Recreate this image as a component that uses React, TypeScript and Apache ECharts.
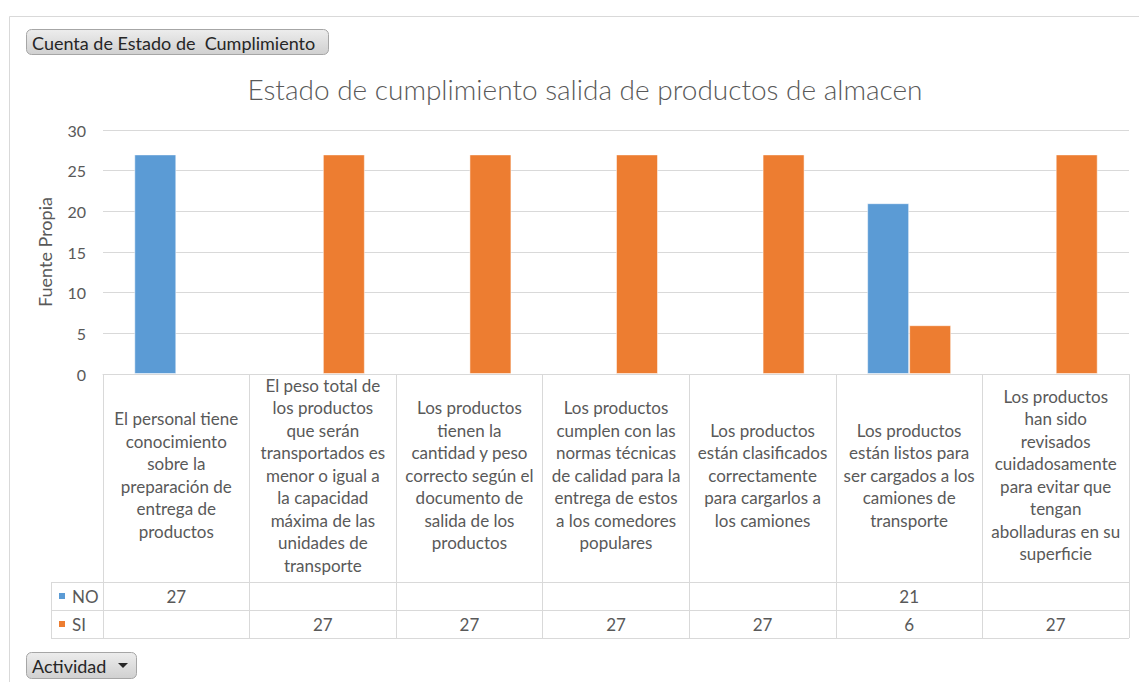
import React, { useEffect, useRef } from "react";
import * as echarts from "echarts";

const title = "Estado de cumplimiento salida de productos de almacen";
const yAxisName = "Fuente Propia";
const fieldButton = "Cuenta de Estado de  Cumplimiento";
const axisButton = "Actividad";

const categories = [
  "El personal tiene\nconocimiento\nsobre la\npreparación de\nentrega de\nproductos",
  "El peso total de\nlos productos\nque serán\ntransportados es\nmenor o igual a\nla capacidad\nmáxima de las\nunidades de\ntransporte",
  "Los productos\ntienen la\ncantidad y peso\ncorrecto según el\ndocumento de\nsalida de los\nproductos",
  "Los productos\ncumplen con las\nnormas técnicas\nde calidad para la\nentrega de estos\na los comedores\npopulares",
  "Los productos\nestán clasificados\ncorrectamente\npara cargarlos a\nlos camiones",
  "Los productos\nestán listos para\nser cargados a los\ncamiones de\ntransporte",
  "Los productos\nhan sido\nrevisados\ncuidadosamente\npara evitar que\ntengan\nabolladuras en su\nsuperficie",
];

const seriesNames = ["NO", "SI"];
const noValues: (number | null)[] = [27, null, null, null, null, 21, null];
const siValues: (number | null)[] = [null, 27, 27, 27, 27, 6, 27];
const seriesColors = ["#5B9BD5", "#ED7D31"];

const yTicks = { min: 0, max: 30, interval: 5 };

const FONT = "Lato, 'Open Sans', sans-serif";
const TEXT = "#595959";
const LINE = "#D9D9D9";

export default function App() {
  const ref = useRef<HTMLDivElement>(null);

  useEffect(() => {
    if (!ref.current) return;
    const chart = echarts.init(ref.current, undefined, { renderer: "svg" });
    const labelRowH = 208;
    const rowH = 28;

    chart.setOption({
      animation: false,
      backgroundColor: "#ffffff",
      textStyle: { fontFamily: FONT },
      title: {
        text: title,
        left: 580,
        top: 70,
        textAlign: "center",
        textStyle: { fontFamily: FONT, fontSize: 28, fontWeight: 300, color: TEXT },
      },
      grid: { left: 103, right: 10, top: 130, height: 244, containLabel: false },
      xAxis: {
        type: "category",
        data: categories,
        axisLine: { show: true, lineStyle: { color: LINE, width: 1 } },
        axisTick: { show: true, interval: 0, length: labelRowH + 2 * rowH, lineStyle: { color: LINE, width: 1 } },
        axisLabel: {
          interval: 0,
          margin: labelRowH / 2 - 3,
          verticalAlign: "middle",
          align: "center",
          lineHeight: 22.5,
          fontSize: 17,
          color: TEXT,
          fontFamily: FONT,
        },
        splitLine: { show: false },
      },
      yAxis: {
        type: "value",
        min: yTicks.min,
        max: yTicks.max,
        interval: yTicks.interval,
        name: yAxisName,
        nameLocation: "middle",
        nameGap: 49,
        nameRotate: 90,
        nameTextStyle: { fontFamily: FONT, fontSize: 18, color: TEXT },
        axisLine: { show: false },
        axisTick: { show: false },
        axisLabel: { fontSize: 16, color: TEXT, margin: 17, fontFamily: FONT },
        splitLine: { lineStyle: { color: LINE, width: 1 } },
      },
      series: [
        {
          name: seriesNames[0],
          type: "bar",
          data: noValues,
          barWidth: 42,
          barGap: "0%",
          itemStyle: { color: seriesColors[0], borderColor: "rgba(255,255,255,0.5)", borderWidth: 1 },
        },
        {
          name: seriesNames[1],
          type: "bar",
          data: siValues,
          barWidth: 42,
          barGap: "0%",
          itemStyle: { color: seriesColors[1], borderColor: "rgba(255,255,255,0.5)", borderWidth: 1 },
        },
      ],
    });

    const xs = categories.map((_, i) => chart.convertToPixel({ xAxisIndex: 0 }, i) as number);
    const band = xs.length > 1 ? xs[1] - xs[0] : 146;
    const right = xs[xs.length - 1] + band / 2;
    const y0 = chart.convertToPixel({ yAxisIndex: 0 }, 0) as number;
    const legendLeft = 51;
    const rowTops = [y0 + labelRowH, y0 + labelRowH + rowH, y0 + labelRowH + 2 * rowH];

    const graphics: any[] = [];
    // frame
    graphics.push({ type: "line", shape: { x1: 9.5, y1: 16.5, x2: 1139, y2: 16.5 }, style: { stroke: LINE, lineWidth: 1 } });
    graphics.push({ type: "line", shape: { x1: 9.5, y1: 16.5, x2: 9.5, y2: 682 }, style: { stroke: LINE, lineWidth: 1 } });

    const btn = (x: number, y: number, w: number, h: number, text: string, arrow: boolean) => {
      const children: any[] = [
        {
          type: "rect",
          shape: { x: x + 0.5, y: y + 0.5, width: w, height: h, r: 5 },
          style: {
            fill: new echarts.graphic.LinearGradient(0, 0, 0, 1, [
              { offset: 0, color: "#EDEDED" },
              { offset: 1, color: "#D0D0D0" },
            ]),
            stroke: "#A6A6A6",
            lineWidth: 1,
          },
        },
        {
          type: "text",
          x: x + 6,
          y: y + h / 2 + 1,
          style: { text, fontFamily: FONT, fontSize: 18, fill: "#262626", verticalAlign: "middle", align: "left" },
        },
      ];
      if (arrow) {
        children.push({
          type: "polygon",
          shape: { points: [[x + w - 18, y + h / 2 - 2], [x + w - 8, y + h / 2 - 2], [x + w - 13, y + h / 2 + 3]] },
          style: { fill: "#262626" },
        });
      }
      return { type: "group", children };
    };
    graphics.push(btn(26, 29, 302, 25, fieldButton, false));
    graphics.push(btn(26, 652, 110, 26, axisButton, true));

    rowTops.forEach((ry) => {
      graphics.push({
        type: "line",
        shape: { x1: legendLeft, y1: Math.round(ry) + 0.5, x2: right, y2: Math.round(ry) + 0.5 },
        style: { stroke: LINE, lineWidth: 1 },
      });
    });
    graphics.push({
      type: "line",
      shape: { x1: legendLeft + 0.5, y1: rowTops[0], x2: legendLeft + 0.5, y2: rowTops[2] },
      style: { stroke: LINE, lineWidth: 1 },
    });

    const rowsData = [noValues, siValues];
    rowsData.forEach((vals, r) => {
      const cy = rowTops[r] + rowH / 2;
      graphics.push({ type: "rect", shape: { x: 59, y: cy - 3, width: 6, height: 6 }, style: { fill: seriesColors[r] } });
      graphics.push({
        type: "text",
        x: 72,
        y: cy,
        style: { text: seriesNames[r], fontFamily: FONT, fontSize: 17, fill: TEXT, verticalAlign: "middle" },
      });
      vals.forEach((v, i) => {
        if (v == null) return;
        graphics.push({
          type: "text",
          x: xs[i],
          y: cy,
          style: { text: String(v), fontFamily: FONT, fontSize: 17, fill: TEXT, align: "center", verticalAlign: "middle" },
        });
      });
    });

    chart.setOption({ graphic: graphics });

    return () => chart.dispose();
  }, []);

  return (
    <div
      ref={ref}
      style={{ position: "absolute", left: 0, top: 0, width: 1139, height: 682, background: "#fff" }}
    />
  );
}
